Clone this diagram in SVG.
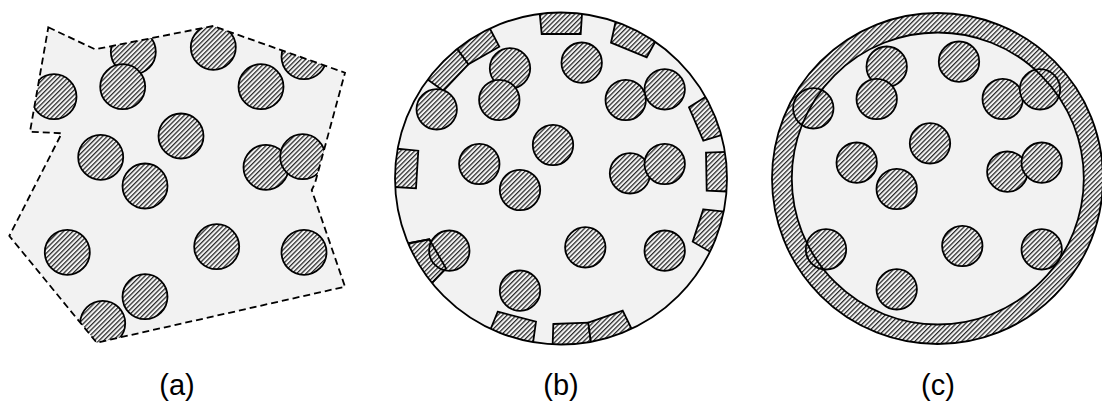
<svg xmlns="http://www.w3.org/2000/svg" width="1102" height="407" viewBox="0 0 1102 407">
<style>
.bg{fill:#f2f2f2}
.p{fill:url(#hatch);stroke:#000;stroke-width:1.8}
.ol{fill:none;stroke:#000;stroke-width:1.8}
.dash{fill:none;stroke:#000;stroke-width:1.8;stroke-dasharray:7 4}
.lbl{font-family:"Liberation Sans",Arial,sans-serif;font-size:29px;fill:#000;text-anchor:middle}
</style>
<defs>
<pattern id="hatch" patternUnits="userSpaceOnUse" width="3.3" height="3.3" patternTransform="rotate(45)">
<rect width="3.3" height="3.3" fill="#f4f4f4"/>
<rect width="1.25" height="3.3" fill="#2a2a2a"/>
</pattern>
<clipPath id="clipA">
<polygon points="48.3,27.3 95,49.3 213,26 345,72.7 315,183.3 311.7,190 345,286.7 96.7,342.7 9.3,236 61.7,133.3 30,131.7"/>
</clipPath>
<clipPath id="clipB"><circle cx="561" cy="178.5" r="166"/></clipPath>
</defs>

<g id="panel-a">
<polygon class="bg" points="48.3,27.3 95,49.3 213,26 345,72.7 315,183.3 311.7,190 345,286.7 96.7,342.7 9.3,236 61.7,133.3 30,131.7"/>
<g clip-path="url(#clipA)">
<circle class="p" cx="133.3" cy="51.7" r="22.5"/>
<circle class="p" cx="122.7" cy="86.7" r="22.5"/>
<circle class="p" cx="213.3" cy="47.3" r="22.5"/>
<circle class="p" cx="261" cy="86.7" r="22.5"/>
<circle class="p" cx="304" cy="56.7" r="22.5"/>
<circle class="p" cx="54" cy="96.7" r="22.5"/>
<circle class="p" cx="100.7" cy="157.3" r="22.5"/>
<circle class="p" cx="181" cy="136" r="22.5"/>
<circle class="p" cx="145" cy="186" r="22.5"/>
<circle class="p" cx="266" cy="167.3" r="22.5"/>
<circle class="p" cx="302.7" cy="156.7" r="22.5"/>
<circle class="p" cx="67.3" cy="252.3" r="22.5"/>
<circle class="p" cx="216.7" cy="246.7" r="22.5"/>
<circle class="p" cx="304" cy="252.3" r="22.5"/>
<circle class="p" cx="145" cy="296.7" r="22.5"/>
<circle class="p" cx="102.7" cy="323.3" r="22.5"/>
</g>
<polygon class="dash" points="48.3,27.3 95,49.3 213,26 345,72.7 315,183.3 311.7,190 345,286.7 96.7,342.7 9.3,236 61.7,133.3 30,131.7"/>
</g>

<g id="panel-b">
<circle class="bg" cx="561" cy="178.5" r="166"/>
<g clip-path="url(#clipB)">
<g id="frags">
<polygon class="p" points="539,6 582.5,6 580.7,34 541.7,34"/>
<polygon class="p" points="616,20 659,35 646.7,57.3 611,42.7"/>
<polygon class="p" points="488,25 499.3,46.7 468.3,64.3 455,46"/>
<polygon class="p" points="455,46 468.3,64.3 443.3,90.7 424,77"/>
<polygon class="p" points="390,148 418.3,150.7 416,188.3 390,186.7"/>
<polygon class="p" points="689,107.3 707,96 725,134 703.3,140.7"/>
<polygon class="p" points="706,152.7 732,151.7 732,191.7 706.7,190.7"/>
<polygon class="p" points="703.3,209.3 728,212 714,254 692.7,241.7"/>
<polygon class="p" points="405,244 429.3,239.3 446,268.3 428,287"/>
<polygon class="p" points="497.7,311.7 536,321.7 532,350 487,338"/>
<polygon class="p" points="553.3,324 588.3,322.7 592,350 552.5,350"/>
<polygon class="p" points="588.3,322.7 622.7,310.7 636,338 592,350"/>
</g>
</g>
<circle class="p" cx="510" cy="68.3" r="20.2"/>
<circle class="p" cx="499.3" cy="100" r="20.2"/>
<circle class="p" cx="581.7" cy="62.7" r="20.2"/>
<circle class="p" cx="625.7" cy="100" r="20.2"/>
<circle class="p" cx="664.7" cy="89.3" r="20.2"/>
<circle class="p" cx="436.7" cy="109.3" r="20.2"/>
<circle class="p" cx="479.3" cy="164" r="20.2"/>
<circle class="p" cx="553" cy="145" r="20.2"/>
<circle class="p" cx="520" cy="190" r="20.2"/>
<circle class="p" cx="630" cy="173.3" r="20.2"/>
<circle class="p" cx="664.7" cy="164" r="20.2"/>
<circle class="p" cx="449.3" cy="250.7" r="20.2"/>
<circle class="p" cx="585.3" cy="247.3" r="20.2"/>
<circle class="p" cx="664.7" cy="250.7" r="20.2"/>
<circle class="p" cx="520" cy="290.7" r="20.2"/>
<g clip-path="url(#clipB)">
<polygon class="ol" points="405,244 429.3,239.3 446,268.3 428,287"/>
</g>
<circle class="ol" cx="561" cy="178.5" r="166"/>
</g>

<g id="panel-c">
<circle cx="937.5" cy="178.5" r="165.5" fill="url(#hatch)"/>
<circle class="bg" cx="937.8" cy="178.5" r="146"/>
<circle class="p" cx="886.7" cy="66.7" r="20.2"/>
<circle class="p" cx="876.7" cy="99" r="20.2"/>
<circle class="p" cx="959" cy="61.7" r="20.2"/>
<circle class="p" cx="1002.7" cy="99" r="20.2"/>
<circle class="p" cx="1040" cy="89.3" r="20.2"/>
<circle class="p" cx="813.3" cy="108.3" r="20.2"/>
<circle class="p" cx="856.7" cy="162.7" r="20.2"/>
<circle class="p" cx="930" cy="143.3" r="20.2"/>
<circle class="p" cx="896.7" cy="189" r="20.2"/>
<circle class="p" cx="1007.3" cy="171.7" r="20.2"/>
<circle class="p" cx="1041.7" cy="162.7" r="20.2"/>
<circle class="p" cx="826" cy="249.3" r="20.2"/>
<circle class="p" cx="962.3" cy="246" r="20.2"/>
<circle class="p" cx="1041.7" cy="249.3" r="20.2"/>
<circle class="p" cx="896.7" cy="289.3" r="20.2"/>
<circle class="ol" cx="937.8" cy="178.5" r="146"/>
<circle class="ol" cx="937.5" cy="178.5" r="165.5"/>
</g>

<g id="labels">
<text class="lbl" x="177" y="395">(a)</text>
<text class="lbl" x="561" y="395">(b)</text>
<text class="lbl" x="938" y="395">(c)</text>
</g>
</svg>
